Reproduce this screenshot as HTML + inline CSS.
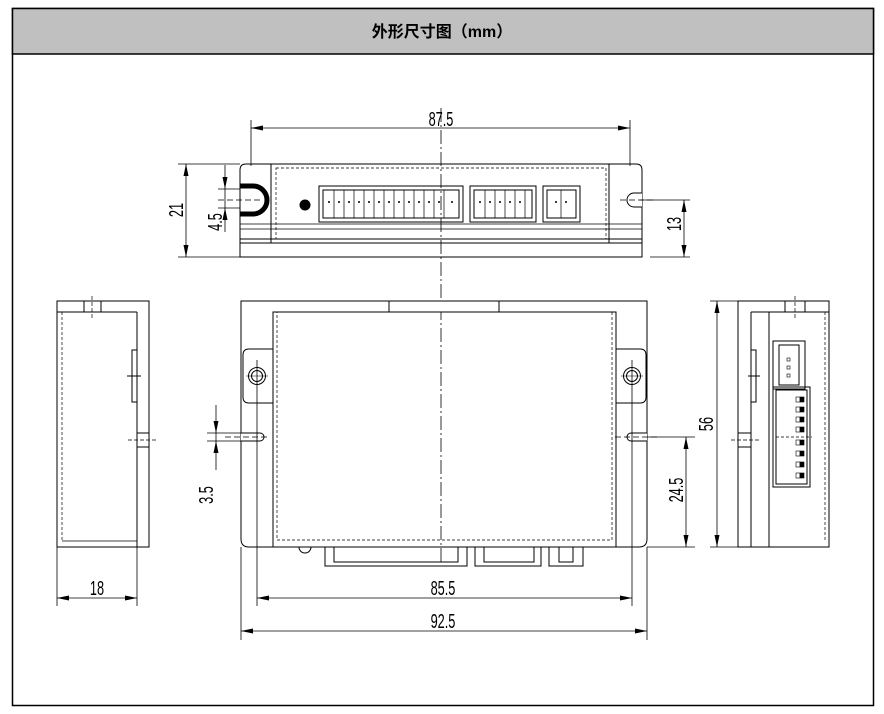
<!DOCTYPE html>
<html><head><meta charset="utf-8"><style>
html,body{margin:0;padding:0;background:#fff;}
svg{display:block;}
text{font-family:"Liberation Sans","Noto Sans CJK SC",sans-serif;}
</style></head><body>
<svg width="884" height="714" viewBox="0 0 884 714" xmlns="http://www.w3.org/2000/svg">
<defs>
<marker id="a" viewBox="0 0 12 6" refX="12" refY="3" markerWidth="12" markerHeight="6" orient="auto-start-reverse" markerUnits="userSpaceOnUse"><path d="M0,0.5 L12,3 L0,5.5Z" fill="#000"/></marker>
</defs>
<rect x="12.5" y="8.5" width="861" height="697" fill="#fff" stroke="#000" stroke-width="1.5"/>
<rect x="12.5" y="8.5" width="861" height="45.5" fill="#c0c0c0" stroke="#000" stroke-width="1.5"/>
<text x="442" y="37" font-size="16" font-weight="bold" text-anchor="middle" font-family="'Noto Sans CJK SC',sans-serif">外形尺寸图（mm）</text>

<g fill="none" stroke="#000" stroke-width="1">
<line x1="441" y1="108" x2="441" y2="565" stroke-dasharray="14,3,2,3" stroke-width="0.8"/>

<!-- TOP VIEW -->
<path d="M246,164 H636 Q642,164 642,170 V243 H240 V170 Q240,164 246,164Z"/>
<line x1="271" y1="164" x2="271" y2="243"/>
<line x1="609" y1="164" x2="609" y2="243"/>
<rect x="276" y="168" width="330" height="71" stroke-dasharray="3,2" stroke-width="0.7"/>
<line x1="240" y1="224" x2="642" y2="224" stroke-width="0.7"/>
<line x1="240" y1="229" x2="642" y2="229" stroke-width="0.7"/>
<rect x="240" y="239" width="402" height="18"/>
<line x1="243" y1="243" x2="640" y2="243"/>
<path d="M240,186 H253 A11,11 0 0 1 253,214 H240" stroke-width="5"/>
<line x1="218" y1="200" x2="262" y2="200" stroke-dasharray="6,3" stroke-width="0.7"/>
<path d="M642,193 H634 A7,7 0 0 0 634,207 H642" fill="#fff"/>
<line x1="620" y1="200" x2="655" y2="200" stroke-dasharray="6,3" stroke-width="0.7"/>
<rect x="319" y="186" width="144" height="36"/>
<rect x="323" y="190" width="136" height="28"/>
<rect x="470" y="186" width="66" height="36"/>
<rect x="474" y="190" width="58" height="28"/>
<rect x="543" y="186" width="37" height="36"/>
<rect x="547" y="190" width="29" height="28"/>
</g>
<g stroke="#000" stroke-width="0.7" fill="none">
<path d="M334,190V218M344,190V218M354,190V218M364,190V218M374,190V218M384,190V218M394,190V218M404,190V218M414,190V218M424,190V218M434,190V218M444,190V218"/>
<path d="M485,190V218M495,190V218M505,190V218M515,190V218M525,190V218"/>
<path d="M561,190V218"/>
</g>
<g fill="#000">
<circle cx="305" cy="205" r="5.5"/>
<circle cx="329" cy="202" r="1"/><circle cx="339" cy="202" r="1"/><circle cx="349" cy="202" r="1"/><circle cx="359" cy="202" r="1"/><circle cx="369" cy="202" r="1"/><circle cx="379" cy="202" r="1"/><circle cx="389" cy="202" r="1"/><circle cx="399" cy="202" r="1"/><circle cx="409" cy="202" r="1"/><circle cx="419" cy="202" r="1"/><circle cx="429" cy="202" r="1"/><circle cx="439" cy="202" r="1"/><circle cx="452" cy="202" r="1"/>
<circle cx="480" cy="202" r="1"/><circle cx="490" cy="202" r="1"/><circle cx="500" cy="202" r="1"/><circle cx="510" cy="202" r="1"/><circle cx="520" cy="202" r="1"/>
<circle cx="556" cy="202" r="1"/><circle cx="566" cy="202" r="1"/>
</g>

<g stroke="#000" stroke-width="0.8" fill="none">
<line x1="251" y1="120" x2="251" y2="166"/>
<line x1="630" y1="120" x2="630" y2="166"/>
<line x1="251" y1="128" x2="630" y2="128" marker-start="url(#a)" marker-end="url(#a)"/>
<line x1="178" y1="164" x2="240" y2="164"/>
<line x1="178" y1="257" x2="240" y2="257"/>
<line x1="186" y1="164" x2="186" y2="257" marker-start="url(#a)" marker-end="url(#a)"/>
<line x1="218" y1="189" x2="240" y2="189"/>
<line x1="218" y1="208" x2="240" y2="208"/>
<line x1="225" y1="165" x2="225" y2="189" marker-end="url(#a)"/>
<line x1="225" y1="232" x2="225" y2="208" marker-end="url(#a)"/>
<line x1="225" y1="189" x2="225" y2="208"/>
<line x1="650" y1="257" x2="690" y2="257"/>
<line x1="640" y1="200" x2="690" y2="200"/>
<line x1="684" y1="200" x2="684" y2="257" marker-start="url(#a)" marker-end="url(#a)"/>
</g>
<g font-size="17" fill="#000">
<text transform="translate(441,126) scale(0.75,1.2)" text-anchor="middle">87.5</text>
<text transform="translate(183,210) rotate(-90) scale(0.75,1.2)" text-anchor="middle">21</text>
<text transform="translate(222,222) rotate(-90) scale(0.75,1.2)" text-anchor="middle">4.5</text>
<text transform="translate(681,224) rotate(-90) scale(0.75,1.2)" text-anchor="middle">13</text>
</g>

<!-- FRONT VIEW -->
<g fill="none" stroke="#000" stroke-width="1">
<path d="M241,301 H647 V539 Q647,547 639,547 H249 Q241,547 241,539Z"/>
<rect x="273" y="312" width="343" height="235"/>
<rect x="389" y="301" width="110" height="11" fill="#fff"/>
<rect x="277" y="312" width="335" height="228" stroke-dasharray="3,2" stroke-width="0.7"/>
<path d="M273,349 H249 Q243,349 243,355 V397 Q243,403 249,403 H273"/>
<path d="M616,349 H640 Q646,349 646,355 V397 Q646,403 640,403 H616"/>
<circle cx="257" cy="376" r="8.5"/><circle cx="257" cy="376" r="5.5"/>
<circle cx="632" cy="376" r="8.5"/><circle cx="632" cy="376" r="5.5"/>
<path d="M241,433 H260 A4,4 0 0 1 260,441 H241" fill="#fff"/>
<path d="M647,433 H631 A4,4 0 0 0 631,441 H647" fill="#fff"/>
<line x1="225" y1="437" x2="270" y2="437" stroke-dasharray="6,3" stroke-width="0.7"/>
<line x1="615" y1="437" x2="660" y2="437" stroke-dasharray="6,3" stroke-width="0.7"/>
<rect x="325" y="547" width="142" height="19"/>
<rect x="334" y="547" width="124" height="15"/>
<rect x="475" y="547" width="66" height="19"/>
<rect x="484" y="547" width="50" height="15"/>
<rect x="549" y="547" width="34" height="19"/>
<rect x="559" y="547" width="14" height="15"/>
<path d="M299,547 A6,6 0 0 0 311,547"/>
</g>
<g stroke="#000" stroke-width="0.8" fill="none">
<line x1="257" y1="360" x2="257" y2="606"/>
<line x1="632" y1="360" x2="632" y2="606"/>
<line x1="246" y1="376" x2="268" y2="376" stroke-width="0.6"/>
<line x1="621" y1="376" x2="643" y2="376" stroke-width="0.6"/>
<line x1="241" y1="547" x2="241" y2="640"/>
<line x1="647" y1="547" x2="647" y2="640"/>
<line x1="257" y1="598" x2="632" y2="598" marker-start="url(#a)" marker-end="url(#a)"/>
<line x1="241" y1="631" x2="647" y2="631" marker-start="url(#a)" marker-end="url(#a)"/>
<line x1="207" y1="433" x2="241" y2="433"/>
<line x1="207" y1="441" x2="241" y2="441"/>
<line x1="216" y1="405" x2="216" y2="433" marker-end="url(#a)"/>
<line x1="216" y1="470" x2="216" y2="441" marker-end="url(#a)"/>
<line x1="216" y1="433" x2="216" y2="441"/>
<line x1="647" y1="437" x2="695" y2="437"/>
<line x1="647" y1="547" x2="695" y2="547"/>
<line x1="686" y1="437" x2="686" y2="547" marker-start="url(#a)" marker-end="url(#a)"/>
<line x1="710" y1="301" x2="738" y2="301"/>
<line x1="710" y1="547" x2="738" y2="547"/>
<line x1="717" y1="301" x2="717" y2="547" marker-start="url(#a)" marker-end="url(#a)"/>
</g>
<g font-size="17" fill="#000">
<text transform="translate(443,595) scale(0.75,1.2)" text-anchor="middle">85.5</text>
<text transform="translate(443,628) scale(0.75,1.2)" text-anchor="middle">92.5</text>
<text transform="translate(213,495) rotate(-90) scale(0.75,1.2)" text-anchor="middle">3.5</text>
<text transform="translate(683,490) rotate(-90) scale(0.75,1.2)" text-anchor="middle">24.5</text>
<text transform="translate(713,424) rotate(-90) scale(0.75,1.2)" text-anchor="middle">56</text>
</g>

<!-- LEFT SIDE VIEW -->
<g fill="none" stroke="#000" stroke-width="1">
<rect x="57" y="301" width="92" height="246"/>
<line x1="137" y1="312" x2="137" y2="547"/>
<line x1="57" y1="312" x2="137" y2="312"/>
<line x1="62" y1="312" x2="62" y2="541" stroke-dasharray="3,2" stroke-width="0.7"/>
<line x1="62" y1="541" x2="137" y2="541" stroke-width="0.7"/>
<line x1="84" y1="301" x2="84" y2="312"/><line x1="101" y1="301" x2="101" y2="312"/>
<line x1="92" y1="296" x2="92" y2="320" stroke-dasharray="4,2" stroke-width="0.7"/>
<rect x="132" y="350" width="5" height="52"/>
<line x1="127" y1="376" x2="141" y2="376"/>
<rect x="137" y="433" width="12" height="14"/>
<line x1="128" y1="440" x2="157" y2="440" stroke-dasharray="4,2" stroke-width="0.7"/>
<line x1="57" y1="547" x2="57" y2="606" stroke-width="0.8"/>
<line x1="137" y1="547" x2="137" y2="606" stroke-width="0.8"/>
<line x1="57" y1="598" x2="137" y2="598" stroke-width="0.8" marker-start="url(#a)" marker-end="url(#a)"/>
</g>
<text transform="translate(97,595) scale(0.75,1.2)" font-size="17" text-anchor="middle">18</text>

<!-- RIGHT SIDE VIEW -->
<g fill="none" stroke="#000" stroke-width="1">
<rect x="738" y="301" width="91" height="246"/>
<line x1="751" y1="312" x2="751" y2="547"/>
<line x1="769" y1="312" x2="769" y2="547"/>
<line x1="751" y1="312" x2="829" y2="312"/>
<line x1="825" y1="312" x2="825" y2="541" stroke-dasharray="3,2" stroke-width="0.7"/>
<line x1="785" y1="301" x2="785" y2="312"/><line x1="805" y1="301" x2="805" y2="312"/>
<line x1="795" y1="296" x2="795" y2="320" stroke-dasharray="4,2" stroke-width="0.7"/>
<rect x="751" y="350" width="5" height="52"/>
<line x1="748" y1="376" x2="760" y2="376"/>
<rect x="738" y="433" width="13" height="14"/>
<line x1="731" y1="440" x2="760" y2="440" stroke-dasharray="4,2" stroke-width="0.7"/>
<rect x="773" y="341" width="32" height="48"/>
<rect x="779" y="345" width="20" height="40"/>
<rect x="773" y="387" width="37" height="100"/>
<rect x="776" y="390" width="31" height="94"/>
<line x1="776" y1="437" x2="812" y2="437" stroke-dasharray="3,2" stroke-width="0.7"/>
</g>
<g fill="#000">
<rect x="787" y="358" width="3" height="3" fill="none" stroke="#000" stroke-width="0.6"/>
<rect x="787" y="366" width="3" height="3" fill="none" stroke="#000" stroke-width="0.6"/>
<rect x="787" y="374" width="3" height="3" fill="none" stroke="#000" stroke-width="0.6"/>
<g stroke="#000" stroke-width="0.6">
<rect x="796" y="397" width="4" height="5" fill="#fff"/><rect x="800" y="397" width="4" height="5"/>
<rect x="796" y="407" width="4" height="5" fill="#fff"/><rect x="800" y="407" width="4" height="5"/>
<rect x="796" y="417" width="4" height="5" fill="#fff"/><rect x="800" y="417" width="4" height="5"/>
<rect x="796" y="427" width="4" height="5" fill="#fff"/><rect x="800" y="427" width="4" height="5"/>
<rect x="796" y="440" width="4" height="5" fill="#fff"/><rect x="800" y="440" width="4" height="5"/>
<rect x="796" y="451" width="4" height="5" fill="#fff"/><rect x="800" y="451" width="4" height="5"/>
<rect x="796" y="462" width="4" height="5" fill="#fff"/><rect x="800" y="462" width="4" height="5"/>
<rect x="796" y="473" width="4" height="5" fill="#fff"/><rect x="800" y="473" width="4" height="5"/>
</g>
</g>
</svg>
</body></html>
